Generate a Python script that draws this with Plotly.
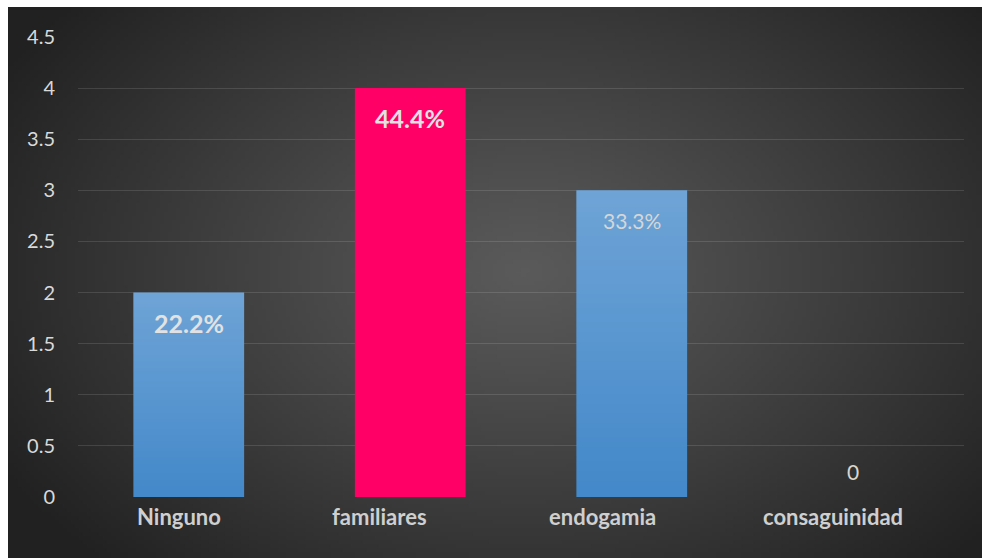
import base64
import struct
import zlib

import plotly.graph_objects as go

# Chart data
categories = ["Ninguno", "familiares", "endogamia", "consaguinidad"]
counts = [2, 4, 3, 0]
value_labels = ["22.2%", "44.4%", "33.3%", "0"]
label_bold = [True, True, False, False]
bar_colors = ["#4489ca", "#ff0066", "#4489ca", "#4489ca"]
y_ticks = [0, 0.5, 1, 1.5, 2, 2.5, 3, 3.5, 4, 4.5]

# horizontal nudge (px) of each category caption under its bar
caption_shift = [-10, -31, -29, -20]

W, H = 982, 558
ML, MR, MT, MB = 78, 18, 37, 61
PW, PH = W - ML - MR, H - MT - MB
FONT = "Lato, 'Open Sans', sans-serif"


def make_png(width, height, pixel):
    """Encode an RGBA image produced by pixel(x, y) as a PNG data URI."""
    raw = bytearray()
    for y in range(height):
        raw.append(0)
        for x in range(width):
            raw.extend(pixel(x, y))

    def chunk(tag, data):
        c = struct.pack(">I", len(data)) + tag + data
        return c + struct.pack(">I", zlib.crc32(tag + data) & 0xFFFFFFFF)

    png = b"\x89PNG\r\n\x1a\n"
    png += chunk(b"IHDR", struct.pack(">IIBBBBB", width, height, 8, 6, 0, 0, 0))
    png += chunk(b"IDAT", zlib.compress(bytes(raw), 9))
    png += chunk(b"IEND", b"")
    return "data:image/png;base64," + base64.b64encode(png).decode()


# Radial grey background
BG_W, BG_H = 240, 136
c_in, c_out = (90, 90, 90), (33, 33, 33)


def bg_pixel(x, y):
    dx = (x / (BG_W - 1) - 0.53) / 0.62
    dy = (y / (BG_H - 1) - 0.48) / 0.75
    d = min((dx * dx + dy * dy) ** 0.5, 1.0)
    t = d ** 1.1
    return bytes([round(a + (b - a) * t) for a, b in zip(c_in, c_out)] + [255])


bg_uri = make_png(BG_W, BG_H, bg_pixel)

# Soft light sheen for the blue bars (lighter at the top)
SH_H = 64


def sheen_pixel(x, y):
    a = 0.23 * (1 - y / (SH_H - 1))
    return bytes([255, 255, 255, round(a * 255)])


sheen_uri = make_png(1, SH_H, sheen_pixel)

fig = go.Figure()
fig.add_trace(
    go.Bar(
        x=categories,
        y=counts,
        width=0.5,
        marker=dict(color=bar_colors, line=dict(width=0)),
        hoverinfo="x+y",
    )
)

images = [
    dict(
        source=bg_uri,
        xref="paper",
        yref="paper",
        x=(8 - ML) / PW,
        y=(H - MB - 7) / PH,
        sizex=(W - 8) / PW,
        sizey=(H - 7) / PH,
        xanchor="left",
        yanchor="top",
        sizing="stretch",
        layer="below",
    )
]
for i, (v, col) in enumerate(zip(counts, bar_colors)):
    if v > 0 and col == "#4489ca":
        images.append(
            dict(
                source=sheen_uri,
                xref="x",
                yref="y",
                x=i,
                y=v,
                sizex=0.5,
                sizey=v,
                xanchor="center",
                yanchor="top",
                sizing="stretch",
                layer="above",
            )
        )

annotations = []
# value labels
for i, (v, lab, bold) in enumerate(zip(counts, value_labels, label_bold)):
    inside = v > 0
    annotations.append(
        dict(
            x=i,
            y=v,
            xref="x",
            yref="y",
            text=f"<b>{lab}</b>" if bold else lab,
            showarrow=False,
            yanchor="middle",
            yshift=-30 if inside else 26,
            font=dict(
                family=FONT,
                size=25 if bold else 21,
                color="#e2e2e2" if bold else "#d6d6d6",
            ),
        )
    )
# category captions
for i, (cat, dx) in enumerate(zip(categories, caption_shift)):
    annotations.append(
        dict(
            x=i,
            y=0,
            xref="x",
            yref="paper",
            text=f"<b>{cat}</b>",
            showarrow=False,
            xanchor="center",
            yanchor="top",
            xshift=dx,
            yshift=-4,
            font=dict(family=FONT, size=22, color="#cfcfcf"),
        )
    )

fig.update_layout(
    width=W,
    height=H,
    margin=dict(l=ML, r=MR, t=MT, b=MB, pad=0),
    paper_bgcolor="white",
    plot_bgcolor="rgba(0,0,0,0)",
    showlegend=False,
    images=images,
    annotations=annotations,
    bargap=0.5,
    font=dict(family=FONT, color="#d9d9d9"),
    xaxis=dict(
        showgrid=False,
        showline=False,
        zeroline=False,
        ticks="",
        showticklabels=False,
        fixedrange=True,
    ),
    yaxis=dict(
        range=[0, 4.5],
        tickvals=y_ticks,
        ticktext=[f"{t:g}" for t in y_ticks],
        showgrid=True,
        gridcolor="rgba(255,255,255,0.12)",
        gridwidth=1.3,
        zeroline=False,
        showline=False,
        ticks="",
        ticklabelstandoff=22,
        tickfont=dict(size=20, color="#d9d9d9"),
        fixedrange=True,
    ),
)

fig.write_html("out.html")
